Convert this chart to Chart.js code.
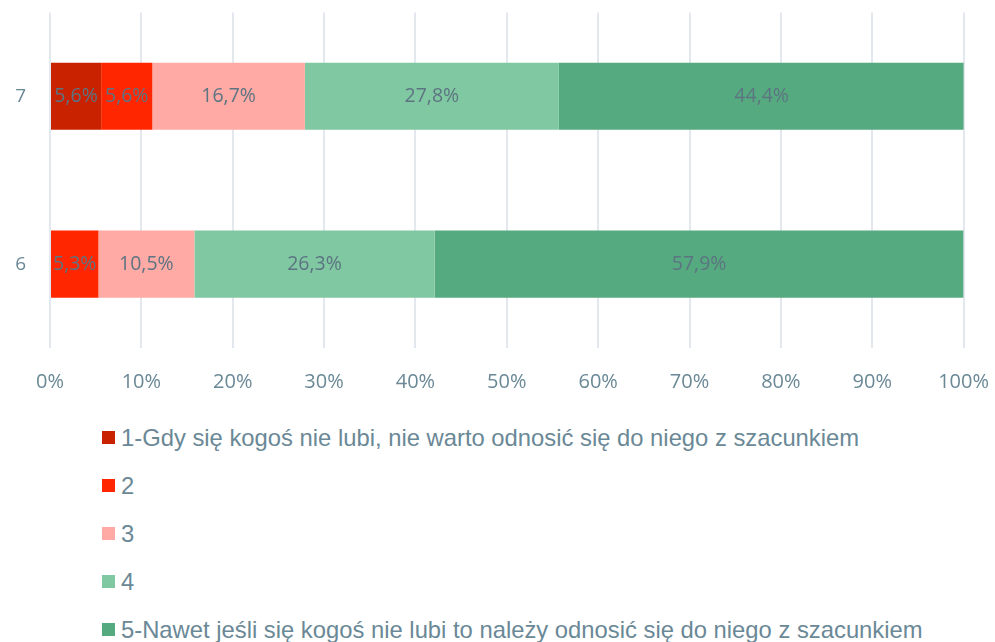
<!DOCTYPE html>
<html>
<head>
<meta charset="utf-8">
<script src="https://cdn.jsdelivr.net/npm/chart.js@4/dist/chart.umd.min.js"></script>
<style>
    html, body { margin: 0; padding: 0; background: #fff; overflow: hidden; }
    #wrap { position: relative; width: 995px; height: 410px; }
    #legend { margin: 4px 0 0 102px; font-family: "Liberation Sans", Arial, sans-serif; font-size: 23.8px; color: #6a8896; }
    .lg-item { height: 48px; display: flex; align-items: center; white-space: nowrap; }
    .lg-box { width: 13px; height: 13px; margin-right: 6px; flex: none; }
</style>
</head>
<body>
<div id="wrap"><canvas id="chart"></canvas></div>
<div id="legend"></div>
<script>
// dane wykresu
const categories = ['7', '6'];
const seriesNames = [
    '1-Gdy się kogoś nie lubi, nie warto odnosić się do niego z szacunkiem',
    '2',
    '3',
    '4',
    '5-Nawet jeśli się kogoś nie lubi to należy odnosić się do niego z szacunkiem'
];
const series1 = [5.6, 0];
const series2 = [5.6, 5.3];
const series3 = [16.7, 10.5];
const series4 = [27.8, 26.3];
const series5 = [44.4, 57.9];
const seriesColors = ['#C82200', '#FF2600', '#FFAAA5', '#80C8A2', '#55AA7F'];
const xTicks = [0, 10, 20, 30, 40, 50, 60, 70, 80, 90, 100];

const allSeries = [series1, series2, series3, series4, series5];
const textColor = '#6a8896';

// obszar wykresu w pikselach strony (jak w oryginale)
const area = { top: 12, right: 964, bottom: 348 };

// etykiety wartości w środku słupków
const barLabels = {
    id: 'barLabels',
    afterDatasetsDraw(chart) {
        const ctx = chart.ctx;
        ctx.save();
        ctx.font = '19.5px "Open Sans"';
        ctx.fillStyle = '#5d7482';
        ctx.textAlign = 'center';
        ctx.textBaseline = 'middle';
        chart.data.datasets.forEach((ds, i) => {
            chart.getDatasetMeta(i).data.forEach((bar, j) => {
                const v = ds.data[j];
                if (!v) return;
                const p = bar.getProps(['x', 'y', 'base']);
                const cx = (p.x + p.base) / 2;
                ctx.fillText(v.toFixed(1).replace('.', ',') + '%', cx, p.y);
            });
        });
        ctx.restore();
    }
};

const ctx = document.getElementById('chart').getContext('2d');
const chart = new Chart(ctx, {
    type: 'bar',
    data: {
        labels: categories,
        datasets: allSeries.map((d, i) => ({
            label: seriesNames[i],
            data: d,
            backgroundColor: seriesColors[i],
            borderWidth: 0,
            barPercentage: 1,
            categoryPercentage: 0.4
        }))
    },
    options: {
        indexAxis: 'y',
        responsive: true,
        maintainAspectRatio: false,
        animation: false,
        plugins: {
            legend: { display: false },
            title: { display: false },
            tooltip: { enabled: false }
        },
        scales: {
            x: {
                stacked: true,
                min: 0,
                max: 100,
                afterBuildTicks: s => { s.ticks = xTicks.map(v => ({ value: v })); },
                afterFit: s => { s.height = 62; },
                grid: { color: '#e3e8ee', lineWidth: 2, drawTicks: false },
                border: { display: false },
                ticks: {
                    padding: 22,
                    color: textColor,
                    font: { family: 'Open Sans', size: 20 },
                    callback: v => v + '%'
                }
            },
            y: {
                stacked: true,
                afterFit: s => { s.width = 50; },
                grid: { display: false, drawTicks: false },
                border: { display: false },
                ticks: {
                    padding: 24,
                    color: textColor,
                    font: { family: 'Open Sans', size: 19 }
                }
            }
        }
    },
    plugins: [barLabels]
});

// dopasowanie kontenera, żeby obszar wykresu wypadł tam gdzie w oryginale
const wrap = document.getElementById('wrap');
for (let k = 0; k < 2; k++) {
    const a = chart.chartArea;
    const m = parseFloat(wrap.style.marginTop || 0);
    const w = wrap.offsetWidth;
    const h = wrap.offsetHeight;
    const xh = h - a.bottom;
    const m2 = m + (area.top - (m + a.top));
    wrap.style.marginTop = m2 + 'px';
    wrap.style.width = Math.round(w + (area.right - a.right)) + 'px';
    wrap.style.height = Math.round(area.bottom + xh - m2) + 'px';
    chart.resize();
}

// legenda pionowa pod wykresem
const legend = document.getElementById('legend');
seriesNames.forEach((name, i) => {
    const item = document.createElement('div');
    item.className = 'lg-item';
    item.innerHTML = '<span class="lg-box" style="background:' + seriesColors[i] + '"></span><span></span>';
    item.lastChild.textContent = name;
    legend.appendChild(item);
});
</script>
</body>
</html>
